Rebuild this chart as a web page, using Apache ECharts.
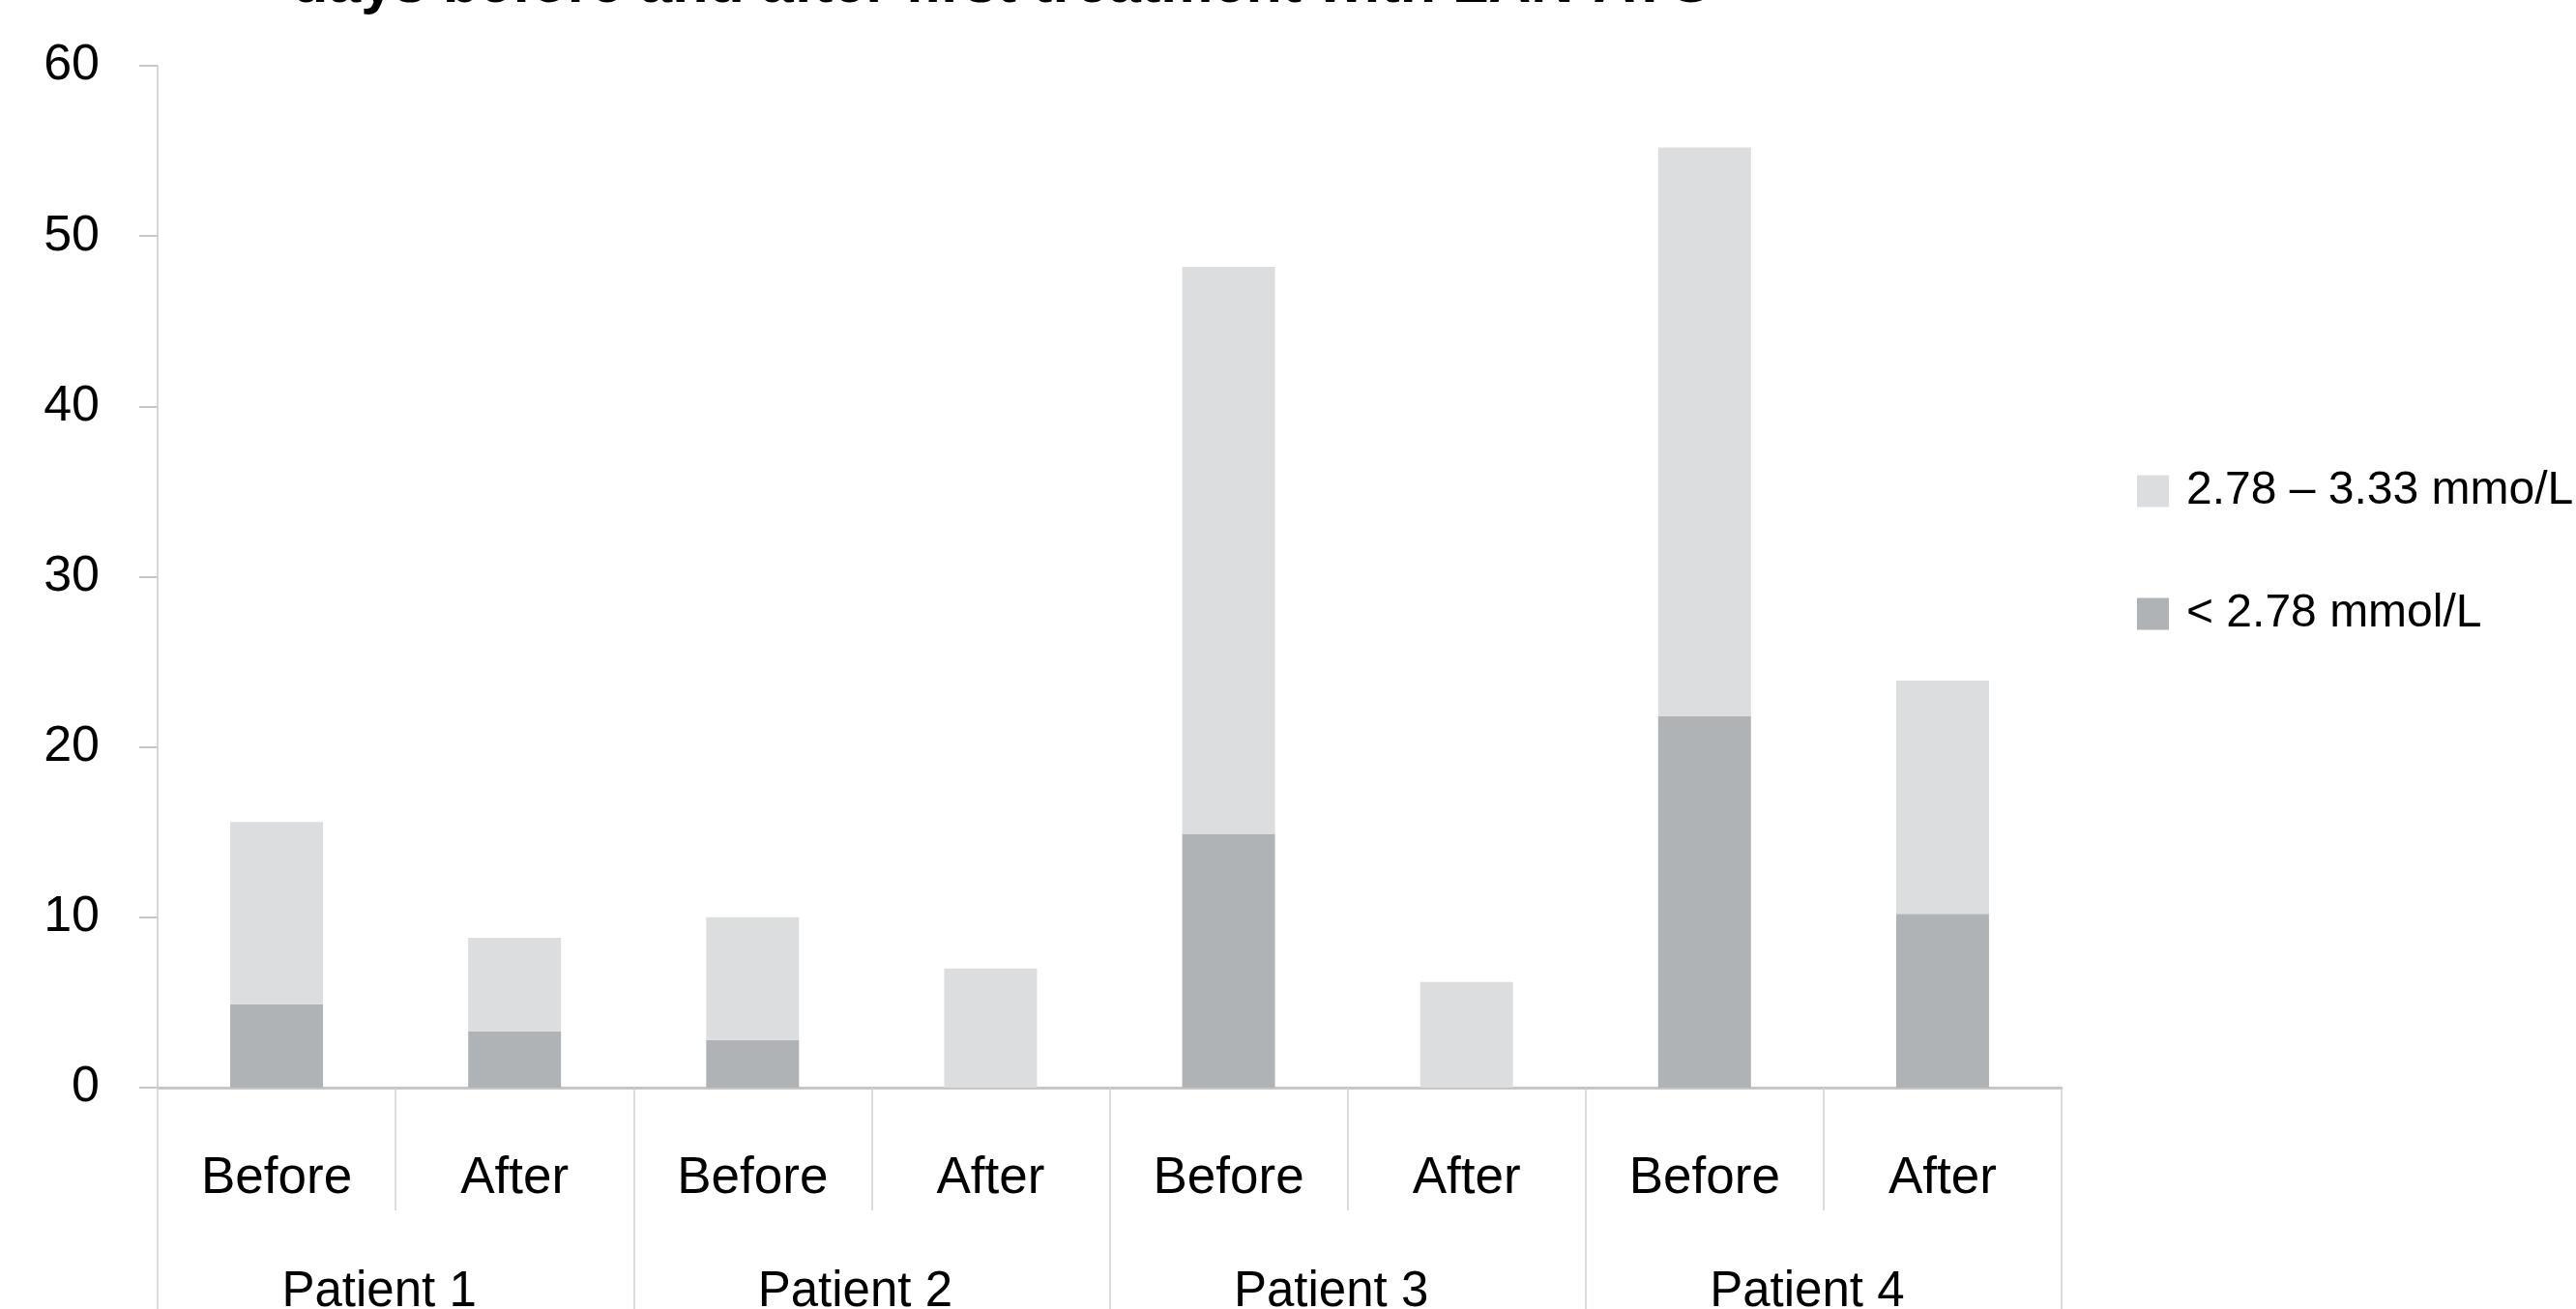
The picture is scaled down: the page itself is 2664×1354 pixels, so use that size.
<!DOCTYPE html>
<html>
<head>
<meta charset="utf-8">
<script src="https://cdn.jsdelivr.net/npm/echarts@6/dist/echarts.min.js"></script>
<style>
html,body{margin:0;padding:0;background:#fff;}
#c{width:2664px;height:1354px;}
</style>
</head>
<body>
<div id="c"></div>
<script>
const titleLine = 'days before and after first treatment with LAN-ATG';
const categories = ['Before','After','Before','After','Before','After','Before','After'];
const patients = ['Patient 1','Patient 2','Patient 3','Patient 4'];
const seriesNames = ['2.78 \u2013 3.33 mmo/L', '< 2.78 mmol/L'];
const below278 = [4.9, 3.3, 2.8, 0, 14.9, 0, 21.8, 10.2];
const between278and333 = [10.7, 5.5, 7.2, 7.0, 33.3, 6.2, 33.4, 13.7];
const yMin = 0, yMax = 60, yStep = 10;

const chart = echarts.init(document.getElementById('c'));
const sans = '"Liberation Sans", Arial, sans-serif';
chart.setOption({
  animation: false,
  backgroundColor: '#ffffff',
  graphic: [{
    type: 'text',
    left: 302,
    top: -45,
    style: {
      text: titleLine,
      font: 'bold 61px "Liberation Sans", Arial, sans-serif',
      fill: '#000'
    }
  }],
  legend: {
    orient: 'vertical',
    left: 2205,
    top: 479,
    itemWidth: 33,
    itemHeight: 33,
    itemGap: 79,
    icon: 'rect',
    data: [seriesNames[0], seriesNames[1]],
    textStyle: { fontFamily: sans, fontSize: 48, color: '#000', padding: [0, 0, 0, 13] },
    itemStyle: { borderWidth: 0 }
  },
  grid: { left: 163, right: 532, top: 68, bottom: 229, containLabel: false, outerBoundsMode: 'none' },
  xAxis: [{
    type: 'category',
    data: categories,
    position: 'bottom',
    axisLine: { show: true, lineStyle: { color: '#c6c6c6', width: 3 } },
    axisTick: { show: true, interval: 0, length: 127, lineStyle: { color: '#d2d2d2', width: 1.5 } },
    axisLabel: { interval: 0, margin: 68, fontFamily: sans, fontSize: 53, color: '#000' }
  }, {
    type: 'category',
    data: patients,
    position: 'bottom',
    axisLine: { show: false },
    axisTick: { show: true, interval: 0, length: 260, lineStyle: { color: '#d2d2d2', width: 1.5 } },
    axisLabel: { interval: 0, margin: 186, fontFamily: sans, fontSize: 51, color: '#000', padding: [0, 34, 0, 0] }
  }],
  yAxis: {
    type: 'value',
    min: yMin, max: yMax, interval: yStep,
    axisLine: { show: true, lineStyle: { color: '#d6d6d6', width: 2 } },
    axisTick: { show: true, length: 19, lineStyle: { color: '#c8c8c8', width: 2 } },
    splitLine: { show: false },
    axisLabel: { margin: 60, fontFamily: sans, fontSize: 52, color: '#000', padding: [10, 0, 0, 0] }
  },
  series: [{
    name: seriesNames[1],
    type: 'bar',
    stack: 'total',
    barWidth: '39%',
    xAxisIndex: 0,
    itemStyle: { color: '#b0b3b6' },
    data: below278
  }, {
    name: seriesNames[0],
    type: 'bar',
    stack: 'total',
    barWidth: '39%',
    xAxisIndex: 0,
    itemStyle: { color: '#dcdddf' },
    data: between278and333
  }]
});
</script>
</body>
</html>
